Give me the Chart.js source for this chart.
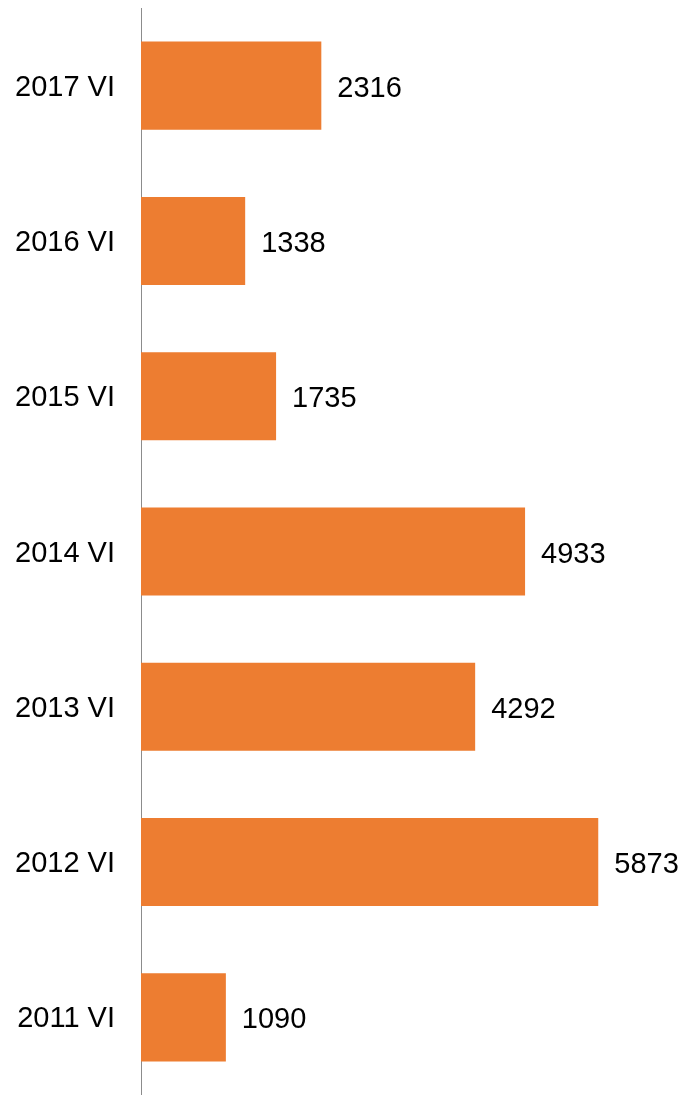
<!DOCTYPE html>
<html>
<head>
<meta charset="utf-8">
<script src="https://cdn.jsdelivr.net/npm/chart.js@4"></script>
<style>
  html, body { margin: 0; padding: 0; background: #fff; }
  #wrap { width: 692px; height: 1095px; position: relative; }
</style>
</head>
<body>
<div id="wrap"><canvas id="barChart"></canvas></div>
<script>
// top to bottom, as in the picture
var categories = ["2017 VI", "2016 VI", "2015 VI", "2014 VI", "2013 VI", "2012 VI", "2011 VI"];
var values = [2316, 1338, 1735, 4933, 4292, 5873, 1090];
var axisMax = 7000;

// writes the number next to each bar
const valueLabels = {
    id: 'valueLabels',
    afterDatasetsDraw(chart) {
        const ctx = chart.ctx;
        const meta = chart.getDatasetMeta(0);
        ctx.save();
        ctx.font = '29px "Liberation Sans", Arial, sans-serif';
        ctx.fillStyle = '#000';
        ctx.textAlign = 'left';
        ctx.textBaseline = 'middle';
        meta.data.forEach((bar, i) => {
            ctx.fillText(String(values[i]), bar.x + 16, bar.y + 3);
        });
        ctx.restore();
    }
};

const ctx = document.getElementById('barChart').getContext('2d');
const barChart = new Chart(ctx, {
    type: 'bar',
    data: {
        labels: categories,
        datasets: [{
            data: values,
            backgroundColor: '#ED7D31',
            borderWidth: 0,
            barPercentage: 0.567,
            categoryPercentage: 1.0
        }]
    },
    options: {
        indexAxis: 'y',
        responsive: true,
        maintainAspectRatio: false,
        animation: false,
        layout: { autoPadding: false, padding: { top: 8, right: 6, bottom: 0, left: 0 } },
        plugins: {
            legend: { display: false },
            tooltip: { enabled: false }
        },
        scales: {
            x: {
                display: false,
                min: 0,
                max: axisMax
            },
            y: {
                afterFit(scale) {
                    scale.width = 141;
                    scale.paddingTop = 0;
                    scale.paddingBottom = 0;
                },
                grid: { display: false, drawTicks: false },
                border: { display: true, color: '#8c8c8c', width: 1 },
                ticks: {
                    padding: 26,
                    labelOffset: 2,
                    color: '#000',
                    font: { family: '"Liberation Sans", Arial, sans-serif', size: 29 }
                }
            }
        }
    },
    plugins: [valueLabels]
});
</script>
</body>
</html>
